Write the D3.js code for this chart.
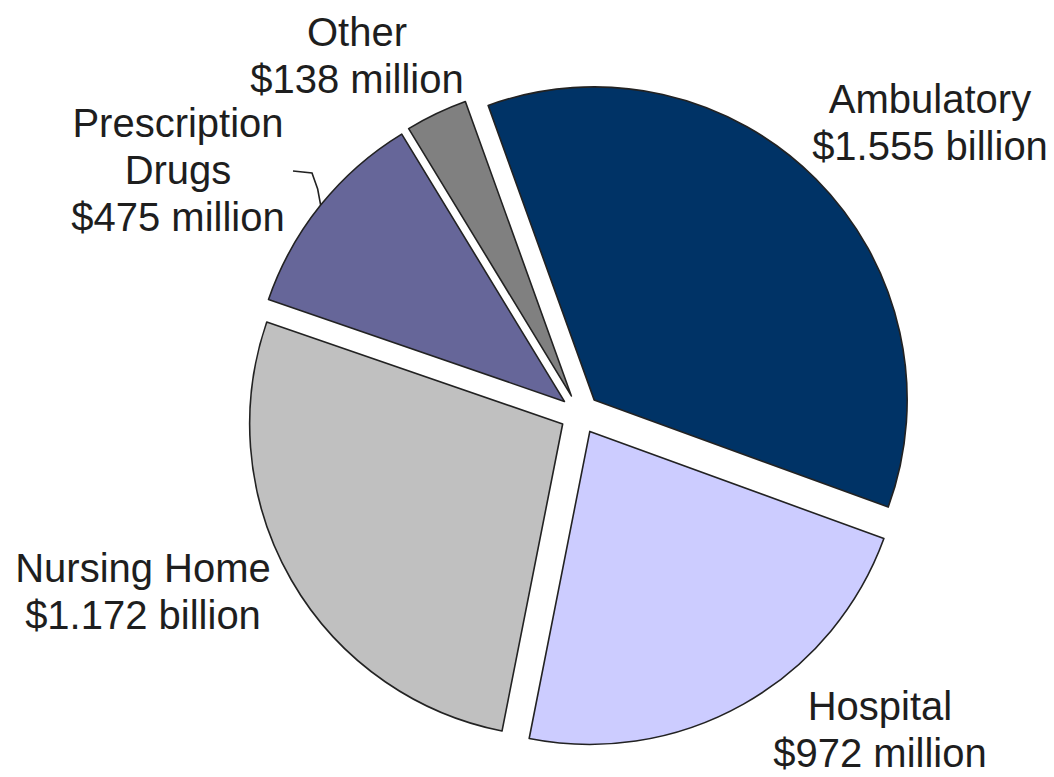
<!DOCTYPE html>
<html>
<head>
	<title> spending pie </title>
	<script src="https://d3js.org/d3.v7.min.js"></script>
	<style>
		body { margin: 0; background: #fff; }
		text { font-family: "Liberation Sans", Arial, sans-serif; font-size: 40px; fill: #1e1e1e; }
	</style>
</head>
<body>
	<svg width="1054" height="777"></svg>
	<script type="text/javascript">
		// data, in millions of dollars, clockwise from the top
		let categories = ["Ambulatory", "Hospital", "Nursing Home", "Prescription Drugs", "Other"];
		let values = [1555, 972, 1172, 475, 138];
		let amountLabels = ["$1.555 billion", "$972 million", "$1.172 billion", "$475 million", "$138 million"];
		let nameLines = [["Ambulatory"], ["Hospital"], ["Nursing Home"], ["Prescription", "Drugs"], ["Other"]];
		let colorSet = ["#003366", "#ccccff", "#c0c0c0", "#666699", "#808080"];

		// layout
		const cx = 580, cy = 414, radius = 313, explode = 20;
		const lineGap = 47;
		// label block: centre x, baseline of first line
		let labelPos = [[930, 113], [880, 720], [143, 582], [178, 137], [357, 46]];

		let svg = d3.select("svg");
		let g = svg.append("g").attr("transform", "translate(" + cx + "," + cy + ")");

		let start = -19.8 * Math.PI / 180;
		let pie = d3.pie().sort(null).startAngle(start).endAngle(start + 2 * Math.PI);
		let arc = d3.arc().innerRadius(0).outerRadius(radius);
		let arcs = pie(values);

		function shift(d) {
			let a = (d.startAngle + d.endAngle) / 2;
			return [explode * Math.sin(a), -explode * Math.cos(a)];
		}

		g.selectAll("path.slice").data(arcs).join("path")
			.attr("class", "slice")
			.attr("transform", d => "translate(" + shift(d) + ")")
			.attr("d", arc)
			.attr("fill", (d, i) => colorSet[i])
			.attr("stroke", "#222")
			.attr("stroke-width", 1.6)
			.attr("stroke-linejoin", "round");

		// labels
		arcs.forEach((d, i) => {
			let lines = nameLines[i].concat([amountLabels[i]]);
			let t = svg.append("text")
				.attr("text-anchor", "middle");
			lines.forEach((s, j) => {
				t.append("tspan")
					.attr("x", labelPos[i][0])
					.attr("y", labelPos[i][1] + j * lineGap)
					.text(s);
			});
		});

		// leader line for Prescription Drugs
		let pd = arcs[3];
		let mid = (pd.startAngle + pd.endAngle) / 2;
		let off = shift(pd);
		let end = [cx + off[0] + radius * Math.sin(mid), cy + off[1] - radius * Math.cos(mid)];
		let lx = 293, ly = labelPos[3][1] + lineGap - 13;
		svg.append("path")
			.attr("d", d3.line()([[lx, ly], [lx + 19, ly + 2], [end[0] - 3, ly + 18], end]))
			.attr("fill", "none")
			.attr("stroke", "#222")
			.attr("stroke-width", 1.6);
	</script>
</body>
</html>
